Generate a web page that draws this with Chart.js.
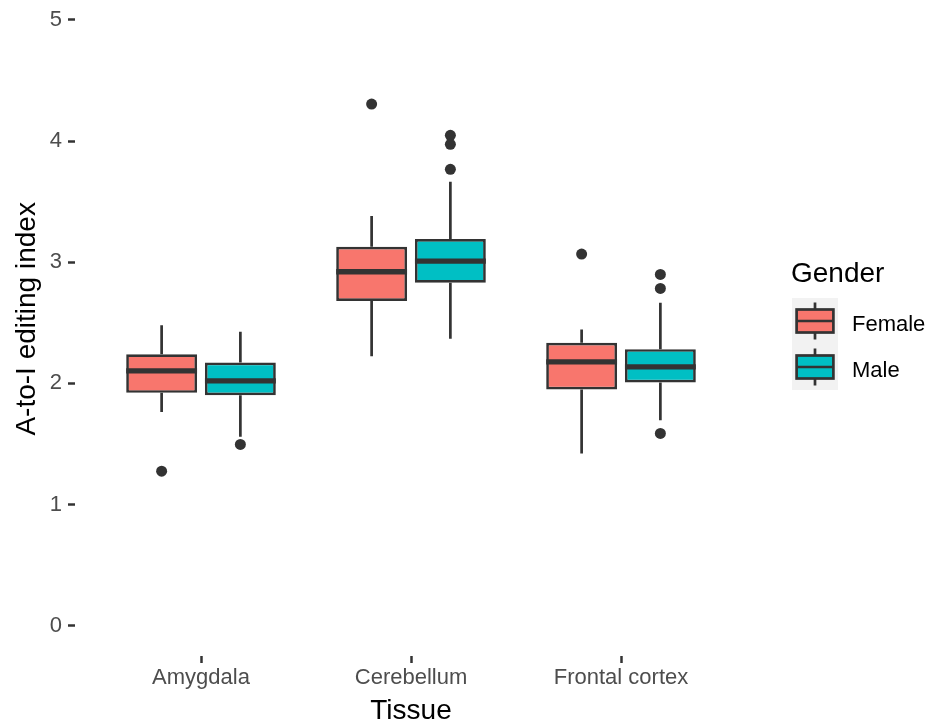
<!DOCTYPE html>
<html>
<head>
<meta charset="utf-8">
<script src="https://cdn.jsdelivr.net/npm/chart.js@4/dist/chart.umd.min.js"></script>
<style>
  html, body { margin: 0; padding: 0; background: #ffffff; }
  #wrap { width: 930px; height: 723px; }
</style>
</head>
<body>
<div id="wrap"><canvas id="chart" width="930" height="723"></canvas></div>
<script>
// Tissue categories and gender groups
const tissues = ['Amygdala', 'Cerebellum', 'Frontal cortex'];
const genders = ['Female', 'Male'];
const genderColors = ['#F8766D', '#00BFC4'];
const yTicks = [0, 1, 2, 3, 4, 5];
const yTitle = 'A-to-I editing index';
const xTitle = 'Tissue';
const legendTitle = 'Gender';

// Box statistics per tissue (A-to-I editing index)
const femaleLow      = [1.765, 2.225, 1.422];
const femaleQ1       = [1.922, 2.680, 1.950];
const femaleMedian   = [2.104, 2.922, 2.178];
const femaleQ3       = [2.240, 3.128, 2.335];
const femaleHigh     = [2.481, 3.382, 2.446];
const femaleOutliers = [[1.276], [4.306], [3.068]];

const maleLow        = [1.560, 2.368, 1.697];
const maleQ1         = [1.903, 2.831, 2.008];
const maleMedian     = [2.021, 3.010, 2.137];
const maleQ3         = [2.173, 3.192, 2.283];
const maleHigh       = [2.426, 3.665, 2.666];
const maleOutliers   = [[1.496], [4.048, 3.974, 3.767], [2.900, 2.784, 1.587]];

const stats = [
  { low: femaleLow, q1: femaleQ1, median: femaleMedian, q3: femaleQ3, high: femaleHigh, outliers: femaleOutliers },
  { low: maleLow,   q1: maleQ1,   median: maleMedian,   q3: maleQ3,   high: maleHigh,   outliers: maleOutliers }
];

const INK = '#333333';
const FONT = "'Liberation Sans', Arial, Helvetica, sans-serif";
const LINE_W = 2.7;
const MEDIAN_W = 5.3;
const POINT_R = 5.5;

const datasets = genders.map((g, d) => ({
  label: g,
  data: tissues.map((t, i) => ({ x: i + 1, y: [stats[d].q1[i], stats[d].q3[i]] })),
  backgroundColor: genderColors[d],
  borderColor: INK,
  borderWidth: LINE_W,
  borderSkipped: false,
  categoryPercentage: 0.75,
  barPercentage: 0.9
}));

// Whiskers, medians and outlying points on top of the boxes
const boxExtras = {
  id: 'boxExtras',
  afterDatasetsDraw(chart) {
    const ctx = chart.ctx;
    const ys = chart.scales.y;
    ctx.save();
    chart.data.datasets.forEach((ds, d) => {
      const meta = chart.getDatasetMeta(d);
      const s = stats[d];
      meta.data.forEach((el, i) => {
        const x = el.x;
        const w = el.width;
        ctx.strokeStyle = INK;
        ctx.lineCap = 'butt';
        ctx.lineWidth = LINE_W;
        ctx.beginPath();
        ctx.moveTo(x, ys.getPixelForValue(s.q3[i]));
        ctx.lineTo(x, ys.getPixelForValue(s.high[i]));
        ctx.moveTo(x, ys.getPixelForValue(s.q1[i]));
        ctx.lineTo(x, ys.getPixelForValue(s.low[i]));
        ctx.stroke();
        ctx.lineWidth = MEDIAN_W;
        const my = ys.getPixelForValue(s.median[i]);
        ctx.beginPath();
        ctx.moveTo(x - w / 2, my);
        ctx.lineTo(x + w / 2, my);
        ctx.stroke();
        ctx.fillStyle = INK;
        s.outliers[i].forEach(v => {
          ctx.beginPath();
          ctx.arc(x, ys.getPixelForValue(v), POINT_R, 0, Math.PI * 2);
          ctx.fill();
        });
      });
    });
    ctx.restore();
  }
};

// Rotated y-axis title, centred on the panel
const yAxisTitle = {
  id: 'yAxisTitle',
  afterDraw(chart) {
    const ctx = chart.ctx;
    const ys = chart.scales.y;
    const cy = ys.getPixelForValue(2.5) - 4;
    ctx.save();
    ctx.translate(27, cy);
    ctx.rotate(-Math.PI / 2);
    ctx.fillStyle = '#000000';
    ctx.font = '28px ' + FONT;
    ctx.textAlign = 'center';
    ctx.textBaseline = 'middle';
    ctx.fillText(yTitle, 0, 0);
    ctx.restore();
  }
};

// Legend with boxplot keys to the right of the plot
const genderLegend = {
  id: 'genderLegend',
  afterDraw(chart) {
    const ctx = chart.ctx;
    const left = chart.chartArea.right + 45;
    const keyTop = 298;
    const key = 46;
    ctx.save();
    ctx.fillStyle = '#000000';
    ctx.font = '28px ' + FONT;
    ctx.textAlign = 'left';
    ctx.textBaseline = 'alphabetic';
    ctx.fillText(legendTitle, left - 1, 282);
    genders.forEach((g, d) => {
      const top = keyTop + d * key;
      ctx.fillStyle = '#F2F2F2';
      ctx.fillRect(left, top, key, key);
      const cx = left + key / 2;
      ctx.strokeStyle = INK;
      ctx.lineWidth = LINE_W;
      ctx.beginPath();
      ctx.moveTo(cx, top + key * 0.1);
      ctx.lineTo(cx, top + key * 0.25);
      ctx.moveTo(cx, top + key * 0.75);
      ctx.lineTo(cx, top + key * 0.9);
      ctx.stroke();
      ctx.fillStyle = genderColors[d];
      const bx = left + key * 0.1, by = top + key * 0.25, bw = key * 0.8, bh = key * 0.5;
      ctx.fillRect(bx, by, bw, bh);
      ctx.strokeRect(bx, by, bw, bh);
      ctx.beginPath();
      ctx.moveTo(bx, top + key / 2);
      ctx.lineTo(bx + bw, top + key / 2);
      ctx.stroke();
      ctx.fillStyle = '#000000';
      ctx.font = '22px ' + FONT;
      ctx.fillText(g, left + 60, top + 33);
    });
    ctx.restore();
  }
};

function zeroPadding(scale) {
  scale.paddingTop = 0;
  scale.paddingBottom = 0;
  scale.paddingLeft = 0;
  scale.paddingRight = 0;
}

new Chart(document.getElementById('chart'), {
  type: 'bar',
  data: { datasets },
  options: {
    responsive: false,
    animation: false,
    devicePixelRatio: 1,
    events: [],
    layout: { padding: { left: 0, right: 183, top: 0, bottom: 0 } },
    plugins: { legend: { display: false }, tooltip: { enabled: false } },
    scales: {
      x: {
        type: 'linear',
        min: 0.4,
        max: 3.6,
        offset: false,
        afterBuildTicks(scale) { scale.ticks = tissues.map((t, i) => ({ value: i + 1 })); },
        afterFit(scale) { scale.height = 67; zeroPadding(scale); },
        ticks: {
          callback: (v) => tissues[Math.round(v) - 1],
          color: '#4D4D4D',
          font: { family: FONT, size: 22 },
          padding: 2,
          maxRotation: 0,
          autoSkip: false
        },
        grid: {
          display: true,
          offset: false,
          drawOnChartArea: false,
          drawTicks: true,
          tickLength: 7,
          tickColor: INK,
          tickWidth: 2.5
        },
        border: { display: false },
        title: {
          display: true,
          text: xTitle,
          color: '#000000',
          font: { family: FONT, size: 28, lineHeight: 0.82 },
          padding: { top: 0, bottom: 0 }
        }
      },
      y: {
        type: 'linear',
        min: -0.25,
        max: 5.165,
        afterBuildTicks(scale) { scale.ticks = yTicks.map(v => ({ value: v })); },
        afterFit(scale) { scale.width = 75; zeroPadding(scale); },
        ticks: {
          color: '#4D4D4D',
          font: { family: FONT, size: 22 },
          padding: 6
        },
        grid: {
          display: true,
          drawOnChartArea: false,
          drawTicks: true,
          tickLength: 7,
          tickColor: INK,
          tickWidth: 2.5
        },
        border: { display: false },
        title: { display: false }
      }
    }
  },
  plugins: [boxExtras, yAxisTitle, genderLegend]
});
</script>
</body>
</html>
